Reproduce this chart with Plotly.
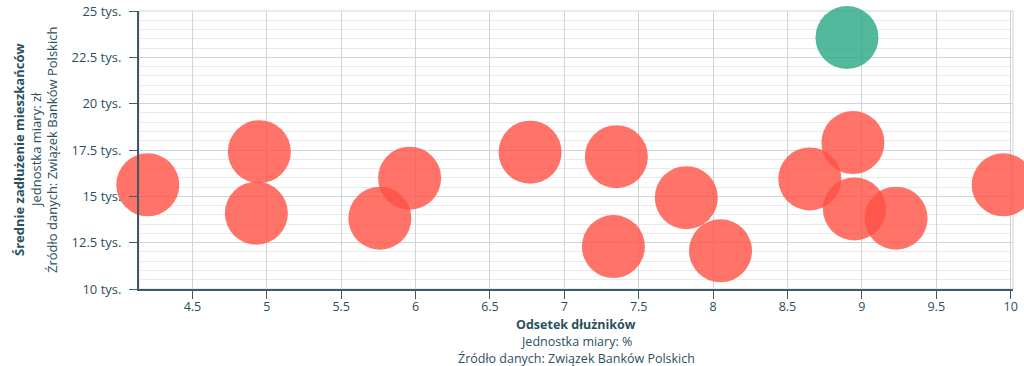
import plotly.graph_objects as go

# Data
regions = ["W1", "W2", "W3", "W4", "W5", "W6", "W7", "W8",
           "W9", "W10", "W11", "W12", "W13", "W14", "W15", "W16"]
odsetek = [4.20, 4.95, 4.93, 5.76, 5.96, 6.77, 7.35, 7.33,
           7.82, 8.05, 8.65, 8.94, 8.95, 9.23, 9.95, 8.90]
zadluzenie = [15.62, 17.41, 14.09, 13.82, 15.98, 17.38, 17.14, 12.29,
              14.93, 12.06, 15.94, 17.90, 14.32, 13.82, 15.62, 23.57]
highlight = [False] * 15 + [True]

y_tickvals = [10, 12.5, 15, 17.5, 20, 22.5, 25]
y_ticktext = ["10 tys.", "12.5 tys.", "15 tys.", "17.5 tys.", "20 tys.", "22.5 tys.", "25 tys."]
x_tickvals = [4.5, 5, 5.5, 6, 6.5, 7, 7.5, 8, 8.5, 9, 9.5, 10]
x_ticktext = ["4.5", "5", "5.5", "6", "6.5", "7", "7.5", "8", "8.5", "9", "9.5", "10"]

x_title = ["<b>Odsetek dłużników</b>", "Jednostka miary: %", "Źródło danych: Związek Banków Polskich"]
y_title = ["<b>Średnie zadłużenie mieszkańców</b>", "Jednostka miary: zł", "Źródło danych: Związek Banków Polskich"]

RED = "rgb(255,80,68)"
GREEN = "rgb(40,168,132)"
TXT = "#2b4f5e"
AXIS = "#3f5a66"

W, H = 1024, 366
ML, MR, MT, MB = 139, 11, 11, 77
PW, PH = W - ML - MR, H - MT - MB

colors = [GREEN if h else RED for h in highlight]

fig = go.Figure()
fig.add_trace(go.Scatter(
    x=odsetek, y=zadluzenie, text=regions, mode="markers",
    marker=dict(size=63, color=colors, opacity=0.8, line=dict(width=0)),
    cliponaxis=False, hoverinfo="text+x+y", showlegend=False,
))

font = "Open Sans, Lato, sans-serif"

annotations = []
# x-axis title lines (pixel centers y)
for txt, py in zip(x_title, [324, 341, 358]):
    annotations.append(dict(text=txt, xref="paper", yref="paper",
                            x=0.5, y=(H - MB - py) / PH, xanchor="center", yanchor="middle",
                            showarrow=False, font=dict(size=12.5, color=TXT)))
# y-axis title lines (pixel centers x)
for txt, px in zip(y_title, [19, 36, 52]):
    annotations.append(dict(text=txt, xref="paper", yref="paper", textangle=-90,
                            x=(px - ML) / PW, y=0.5, xanchor="center", yanchor="middle",
                            showarrow=False, font=dict(size=13, color=TXT)))

fig.update_layout(
    width=W, height=H,
    margin=dict(l=ML, r=MR, t=MT, b=MB),
    paper_bgcolor="white", plot_bgcolor="white",
    font=dict(family=font, color=TXT, size=12.5),
    xaxis=dict(
        range=[4.141, 10.016], tickvals=x_tickvals, ticktext=x_ticktext,
        showgrid=True, gridcolor="#cfd4d6", gridwidth=1,
        showline=True, linecolor=AXIS, linewidth=2,
        ticks="outside", ticklen=8, tickcolor=AXIS, tickwidth=1,
        ticklabelstandoff=-3,
        zeroline=False, tickfont=dict(size=12.5, color=TXT), automargin=False,
    ),
    yaxis=dict(
        range=[10, 25], tickvals=y_tickvals, ticktext=y_ticktext,
        showgrid=True, gridcolor="#cfd4d6", gridwidth=1,
        minor=dict(dtick=0.5, showgrid=True, gridcolor="#e8eaeb", gridwidth=1),
        showline=True, linecolor=AXIS, linewidth=2,
        ticks="outside", ticklen=8, tickcolor=AXIS, tickwidth=1,
        ticklabelstandoff=5,
        zeroline=False, tickfont=dict(size=13, color=TXT), automargin=False,
    ),
    annotations=annotations,
    shapes=[dict(type="rect", xref="paper", yref="paper", x0=0, x1=1, y0=0, y1=1,
                 line=dict(color="#cfd4d6", width=1), layer="below")],
)

fig.write_html("out.html", config={"displayModeBar": False},
               post_script="document.body.style.margin='0px';document.body.style.overflow='hidden';")
